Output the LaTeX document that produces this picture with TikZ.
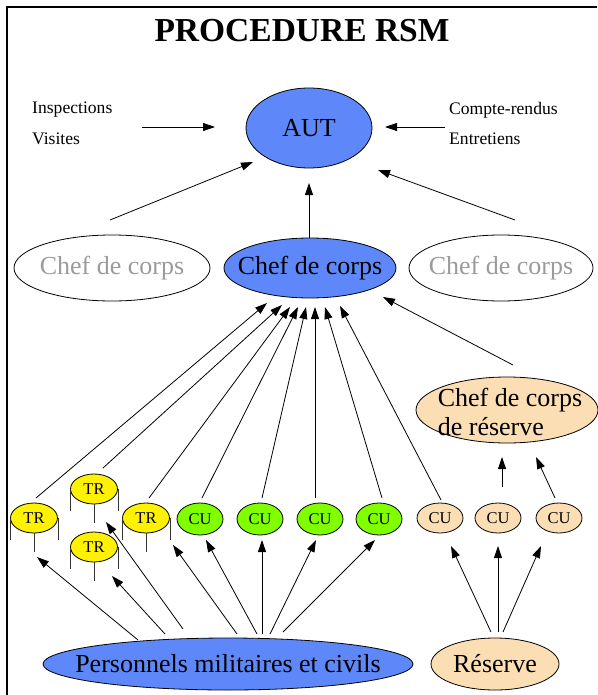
\documentclass[tikz,border=0pt]{standalone}
\usepackage{fontspec}
\setmainfont{Liberation Serif}
\usetikzlibrary{arrows.meta,shapes.geometric}

\definecolor{autblue}{RGB}{94,136,250}
\definecolor{leafgreen}{RGB}{128,255,0}
\definecolor{peach}{RGB}{252,222,180}
\definecolor{fadedtext}{RGB}{155,155,155}

\newcommand\fs[1]{\fontsize{#1}{#1}\selectfont}

\tikzset{
  bubble/.style={ellipse, draw=black, line width=0.8pt, inner sep=0pt},
  bigtext/.style={font=\fs{26}, inner sep=0pt},
  smalltext/.style={font=\fs{17.6}, inner sep=0pt, anchor=west},
  unittext/.style={font=\fs{16.5}, inner sep=0pt},
  link/.style={line width=0.8pt, -{Triangle[length=12pt,width=8pt]}},
  leg/.style={line width=0.8pt, draw=black!80},
  trbox/.style={bubble, fill=yellow, minimum width=47, minimum height=30},
  cugreen/.style={bubble, fill=leafgreen, minimum width=46, minimum height=32},
  cupeach/.style={bubble, fill=peach, minimum width=46, minimum height=30},
}

\begin{document}
\begin{tikzpicture}[x=1pt,y=-1pt]
\useasboundingbox (0,0) rectangle (597,695);

% frame
\draw[line width=2pt] (7,695) -- (7,7) -- (597,7);

% title
\node[font=\bfseries\fs{33.5}, anchor=base, inner sep=0pt] (title) at (302,42) {PROCEDURE RSM};

% top authority
\node[bubble, fill=autblue, minimum width=126, minimum height=80] (aut) at (309,128) {};
\node[bigtext] (autlbl) at (aut) {AUT};

\node[smalltext] (insp) at (32,110) {Inspections};
\node[smalltext] (vis)  at (32,139) {Visites};
\node[smalltext] (cr)   at (449,110) {Compte-rendus};
\node[smalltext] (ent)  at (449,139) {Entretiens};

\coordinate (inA) at (142,127); \coordinate (inB) at (215,127);
\coordinate (crA) at (445,127); \coordinate (crB) at (385,127);
\draw[link] (inA) -- (inB);
\draw[link] (crA) -- (crB);

% chefs de corps
\node[bubble, minimum width=196, minimum height=66] (cdcL) at (112,268) {};
\node[bigtext, text=fadedtext] (cdcLlbl) at (cdcL) {Chef de corps};
\node[bubble, fill=autblue, minimum width=172, minimum height=60] (cdc) at (310,268) {};
\node[bigtext] (cdclbl) at (cdc) {Chef de corps};
\node[bubble, minimum width=184, minimum height=66] (cdcR) at (501,268) {};
\node[bigtext, text=fadedtext] (cdcRlbl) at (cdcR) {Chef de corps};

\coordinate (l1) at (110,220); \coordinate (l1t) at (253,162);
\coordinate (l2) at (309,238); \coordinate (l2t) at (309,183);
\coordinate (l3) at (515,220); \coordinate (l3t) at (378,170);
\draw[link] (l1) -- (l1t);
\draw[link] (l2) -- (l2t);
\draw[link] (l3) -- (l3t);

% reserve chief
\node[bubble, fill=peach, minimum width=182, minimum height=66] (cdcres) at (507,410) {};
\node[bigtext, align=left] (cdcreslbl) at (510,412) {Chef de corps\\[3pt]de réserve};

% unit row
\node[trbox] (tr1) at (34,518) {};
\node[trbox] (tr2) at (94,489) {};
\node[trbox] (tr3) at (94,547) {};
\node[trbox] (tr4) at (146,518) {};
\foreach \t in {tr1,tr2,tr3,tr4}{
  \node[unittext] at (\t) {TR};
  \draw[leg] (\t.west) -- ++(0,22);
  \draw[leg] (\t.east) -- ++(0,22);
  \draw[leg] (\t.south) -- ++(0,19);
}
\node[cugreen] (cu1) at (200,519) {};
\node[cugreen] (cu2) at (260,519) {};
\node[cugreen] (cu3) at (320,519) {};
\node[cugreen] (cu4) at (379,519) {};
\node[cupeach] (cr1) at (440,518) {};
\node[cupeach] (cr2) at (498,518) {};
\node[cupeach] (cr3) at (559,518) {};
\foreach \u in {cu1,cu2,cu3,cu4,cr1,cr2,cr3}{
  \node[unittext] at (\u) {CU};
}

% units up to the chef de corps
\foreach \sx/\sy/\tx/\ty [count=\i] in {
  36/498/267/303, 103/468/282/305, 149/498/290/307, 202/498/298/307,
  262/498/306/307, 315/498/315/307, 382/498/325/307, 441/500/340/306}{
  \coordinate (up\i) at (\sx,\sy);
  \coordinate (upt\i) at (\tx,\ty);
  \draw[link] (up\i) -- (upt\i);
}
\coordinate (rs) at (513,365); \coordinate (rst) at (383,297);
\draw[link] (rs) -- (rst);

% reserve units up to reserve chief
\coordinate (ru1) at (502,487); \coordinate (ru1t) at (502,457);
\coordinate (ru2) at (555,498); \coordinate (ru2t) at (536,457);
\draw[link] (ru1) -- (ru1t);
\draw[link] (ru2) -- (ru2t);

% bottom sources
\node[bubble, fill=autblue, minimum width=370, minimum height=52] (pers) at (228,664) {};
\node[bigtext] (perslbl) at (pers) {Personnels militaires et civils};
\node[bubble, fill=peach, minimum width=128, minimum height=52] (res) at (495,664) {};
\node[bigtext] (reslbl) at (res) {Réserve};

\foreach \sx/\sy/\tx/\ty [count=\i] in {
  138/640/37/557, 165/634/112/576, 183/629/106/522, 237/634/173/545,
  257/634/206/540, 262/634/262/540, 270/634/316/540, 283/632/375/540}{
  \coordinate (pa\i) at (\sx,\sy);
  \coordinate (pat\i) at (\tx,\ty);
  \draw[link] (pa\i) -- (pat\i);
}
\foreach \sx/\sy/\tx/\ty [count=\i] in {
  491/632/451/546, 498/632/498/546, 503/632/541/546}{
  \coordinate (ra\i) at (\sx,\sy);
  \coordinate (rat\i) at (\tx,\ty);
  \draw[link] (ra\i) -- (rat\i);
}
\end{tikzpicture}
\end{document}
